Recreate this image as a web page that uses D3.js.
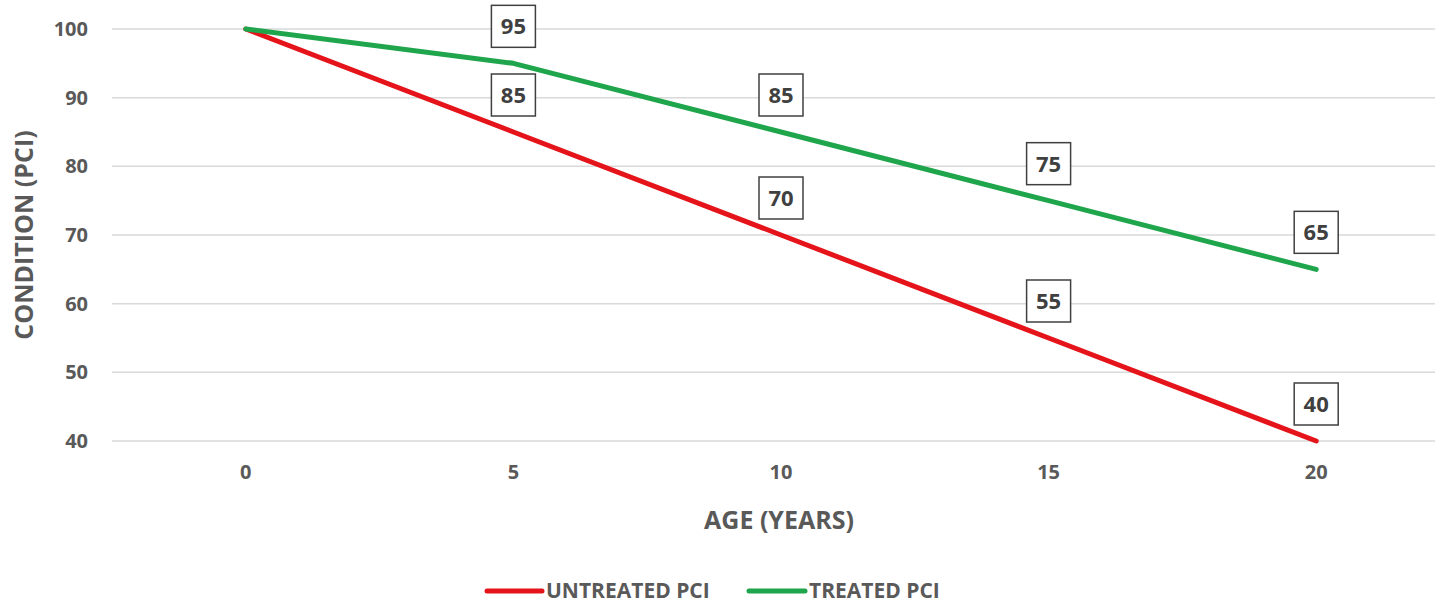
<html lang="en">
<head>
<style>
body { margin: 0; background: #fff; }
text { font-family: "Open Sans", sans-serif; font-weight: 700; }
</style>
</head>
<body>
<div id="chart"></div>
<script src="https://d3js.org/d3.v7.min.js"></script>
<script>
// data
const ages = ["0", "5", "10", "15", "20"];
const untreated = [100, 85, 70, 55, 40];
const treated = [100, 95, 85, 75, 65];
const yTicks = [40, 50, 60, 70, 80, 90, 100];

const W = 1435, H = 606;
const margin = {top: 29, left: 112, right: -15, bottom: 165};
const width = W - margin.left - margin.right;
const height = H - margin.top - margin.bottom;

const svg = d3.select("#chart").append("svg")
  .attr("width", W).attr("height", H);
const g = svg.append("g")
  .attr("transform", "translate(" + margin.left + "," + margin.top + ")");

const x = d3.scaleBand().domain(ages).range([0, width]);
const y = d3.scaleLinear().domain([40, 100]).range([height, 0]);
const cx = d => x(d) + x.bandwidth() / 2;

// gridlines
g.selectAll(".grid").data(yTicks).enter().append("line")
  .attr("x1", 0).attr("x2", width)
  .attr("y1", d => y(d)).attr("y2", d => y(d))
  .attr("stroke", "#d9d9d9").attr("stroke-width", 1.5);

// y axis labels
const yAxis = g.append("g").call(d3.axisLeft(y).tickValues(yTicks).tickSize(0).tickPadding(24));
yAxis.select(".domain").remove();
yAxis.selectAll("text").attr("font-size", 20).attr("fill", "#595959")
  .style("font-family", "'Open Sans', sans-serif").style("font-weight", 700);

// x axis labels
const xAxis = g.append("g").attr("transform", "translate(0," + height + ")")
  .call(d3.axisBottom(x).tickSize(0).tickPadding(24));
xAxis.select(".domain").remove();
xAxis.selectAll("text").attr("font-size", 20).attr("fill", "#595959")
  .style("font-family", "'Open Sans', sans-serif").style("font-weight", 700);

// axis titles
svg.append("text").attr("x", 779).attr("y", 529).attr("text-anchor", "middle")
  .attr("font-size", 25).attr("fill", "#595959").text("AGE (YEARS)");
svg.append("text").attr("transform", "translate(33,235) rotate(-90)")
  .attr("text-anchor", "middle").attr("font-size", 25).attr("fill", "#595959")
  .text("CONDITION (PCI)");

const series = [
  {name: "UNTREATED PCI", values: untreated, color: "#e5141b"},
  {name: "TREATED PCI", values: treated, color: "#1fa54b"}
];

const line = d3.line().x((d, i) => cx(ages[i])).y(d => y(d));

series.forEach(s => {
  g.append("path").datum(s.values)
    .attr("d", line).attr("fill", "none")
    .attr("stroke", s.color).attr("stroke-width", 5)
    .attr("stroke-linecap", "round").attr("stroke-linejoin", "round");
});

// data labels (skip the first point, as in the reference)
series.forEach(s => {
  s.values.forEach((v, i) => {
    if (i === 0) return;
    const px = cx(ages[i]), py = y(v);
    const lg = g.append("g").attr("transform", "translate(" + px + "," + (py - 37) + ")");
    lg.append("rect").attr("x", -22).attr("y", -21).attr("width", 44).attr("height", 42)
      .attr("fill", "#fff").attr("stroke", "#404040").attr("stroke-width", 1.5);
    lg.append("text").attr("text-anchor", "middle").attr("dy", "0.36em")
      .attr("font-size", 22).attr("fill", "#404040").text(v);
  });
});

// legend
const legend = [
  {name: "UNTREATED PCI", color: "#e5141b", x1: 487, x2: 542},
  {name: "TREATED PCI", color: "#1fa54b", x1: 749, x2: 805}
];
legend.forEach(l => {
  svg.append("line").attr("x1", l.x1).attr("x2", l.x2).attr("y1", 591).attr("y2", 591)
    .attr("stroke", l.color).attr("stroke-width", 5).attr("stroke-linecap", "round");
  svg.append("text").attr("x", l.x2 + 4).attr("y", 598)
    .attr("font-size", 21).attr("fill", "#595959").text(l.name);
});
</script>
</body>
</html>
